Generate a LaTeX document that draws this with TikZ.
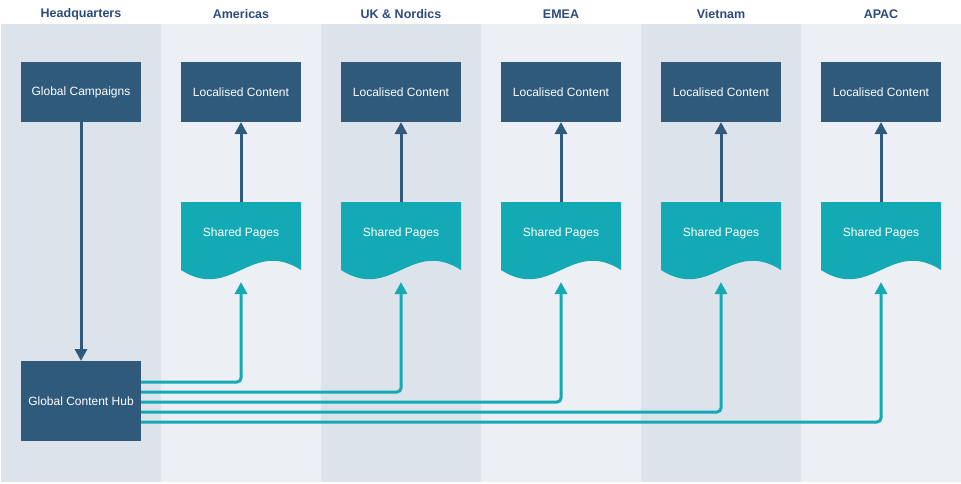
\documentclass[tikz,border=0pt]{standalone}
\usepackage{fontspec}
\setmainfont{Liberation Sans}
\usetikzlibrary{arrows.meta,positioning}
\definecolor{hqblue}{HTML}{2F5A7C}
\definecolor{heading}{HTML}{2B4A7E}
\definecolor{hubteal}{HTML}{14AAB5}
\definecolor{laneDark}{HTML}{DCE3EA}
\definecolor{laneLight}{HTML}{ECF0F4}

\begin{document}
\begin{tikzpicture}[
  x=1pt, y=-1pt,
  node distance=40pt,
  every node/.style={outer sep=0pt},
  heading/.style={font=\bfseries\fontsize{12.5}{15}\selectfont, text=heading},
  box/.style={fill=hqblue, text=white, inner sep=0pt, minimum width=120pt, minimum height=60pt, font=\fontsize{12}{14}\selectfont},
  pages/.style={text=white, inner sep=0pt, minimum width=120pt, minimum height=78pt, text depth=18pt, font=\fontsize{12}{14}\selectfont,
    path picture={\fill[hubteal] (path picture bounding box.north west) -- ([yshift=10pt]path picture bounding box.south west)
      .. controls ([xshift=50pt,yshift=-22pt]path picture bounding box.south west) and ([xshift=70pt,yshift=42pt]path picture bounding box.south west)
      .. ([yshift=10pt]path picture bounding box.south east) -- (path picture bounding box.north east) -- cycle;}},
  arrow/.style={-{Triangle[width=12pt,length=12pt]}, line width=3pt, draw=hqblue},
  feed/.style={-{Triangle[width=12pt,length=12pt]}, line width=3pt, draw=hubteal, rounded corners=4pt}
]
\useasboundingbox (0,0) rectangle (961,483);
% lanes
\fill[laneDark] (1,24) rectangle (161,482);
\fill[laneLight] (161,24) rectangle (321,482);
\fill[laneDark] (321,24) rectangle (481,482);
\fill[laneLight] (481,24) rectangle (641,482);
\fill[laneDark] (641,24) rectangle (801,482);
\fill[laneLight] (801,24) rectangle (961,482);
\node[heading] (hq) at (81,14) {Headquarters};
\node[heading] (americas) at (241,14) {Americas};
\node[heading] (nordics) at (401,14) {UK \& Nordics};
\node[heading] (emea) at (561,14) {EMEA};
\node[heading] (vietnam) at (721,14) {Vietnam};
\node[heading] (apac) at (881,14) {APAC};
% boxes
\node[box] (campaigns) at (81,92) {Global Campaigns};
\node[box, right=of campaigns] (locAm) {Localised Content};
\node[box, right=of locAm] (locUk) {Localised Content};
\node[box, right=of locUk] (locEm) {Localised Content};
\node[box, right=of locEm] (locVn) {Localised Content};
\node[box, right=of locVn] (locAp) {Localised Content};
\node[pages, below=80pt of locAm] (pagesAm) {Shared Pages};
\node[pages, below=80pt of locUk] (pagesUk) {Shared Pages};
\node[pages, below=80pt of locEm] (pagesEm) {Shared Pages};
\node[pages, below=80pt of locVn] (pagesVn) {Shared Pages};
\node[pages, below=80pt of locAp] (pagesAp) {Shared Pages};
\node[box, minimum height=80pt, below=239pt of campaigns] (hub) {Global Content Hub};
% arrows
\draw[arrow] (campaigns) -- (hub);
\draw[arrow] (pagesAm) -- (locAm);
\draw[arrow] (pagesUk) -- (locUk);
\draw[arrow] (pagesEm) -- (locEm);
\draw[arrow] (pagesVn) -- (locVn);
\draw[arrow] (pagesAp) -- (locAp);
\draw[feed] ([yshift=19pt]hub.east) -| ([yshift=-2pt]pagesAm.south);
\draw[feed] ([yshift=9pt]hub.east) -| ([yshift=-2pt]pagesUk.south);
\draw[feed] ([yshift=-1pt]hub.east) -| ([yshift=-2pt]pagesEm.south);
\draw[feed] ([yshift=-11pt]hub.east) -| ([yshift=-2pt]pagesVn.south);
\draw[feed] ([yshift=-21pt]hub.east) -| ([yshift=-2pt]pagesAp.south);
\end{tikzpicture}
\end{document}
